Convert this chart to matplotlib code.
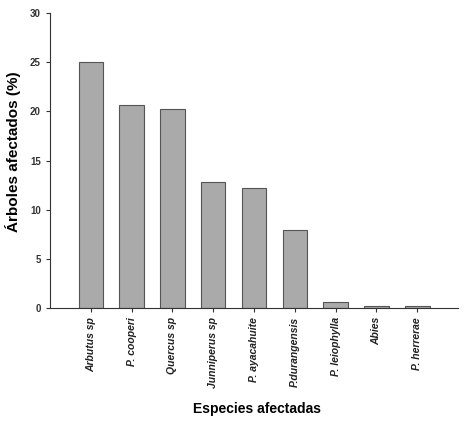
import matplotlib.pyplot as plt
import numpy as np

plt.rcParams['font.family'] = ['Liberation Sans', 'DejaVu Sans']

especies = ["Arbutus sp", "P. cooperi", "Quercus sp", "Junniperus sp", "P. ayacahuite",
            "P.durangensis", "P. leiophylla", "Abies", "P. herrerae"]
porcentaje = [25.0, 20.7, 20.3, 12.8, 12.2, 7.9, 0.6, 0.25, 0.2]

fig = plt.figure(figsize=(4.67, 4.26), dpi=100)
ax = fig.add_axes([0.107, 0.277, 0.874, 0.692])

x = np.arange(len(especies))
ax.bar(x, porcentaje, width=0.6, color="#aaaaaa", edgecolor="#555555", linewidth=0.8)

ax.set_xlim(-1, 9)
ax.set_ylim(0, 30)
ax.set_yticks(range(0, 31, 5))
ax.set_xticks(x)
ax.set_xticklabels(especies, rotation=90, style="italic", fontweight="bold",
                   fontsize=7.5, color="#222222")
for lbl in ax.get_yticklabels():
    lbl.set_fontweight("bold")
ax.tick_params(axis="y", labelsize=7, length=3, colors="#333333")
ax.tick_params(axis="x", length=3, color="#333333")

for s in ["top", "right"]:
    ax.spines[s].set_visible(False)
for s in ["left", "bottom"]:
    ax.spines[s].set_color("#333333")
    ax.spines[s].set_linewidth(0.8)

fig.text(0.028, 0.645, "Árboles afectados (%)", rotation=90, ha="center", va="center",
         fontsize=11, fontweight="bold")
fig.text(0.55, 0.03, "Especies afectadas", ha="center", fontsize=10, fontweight="bold")

fig.savefig("out.png", dpi=100)
